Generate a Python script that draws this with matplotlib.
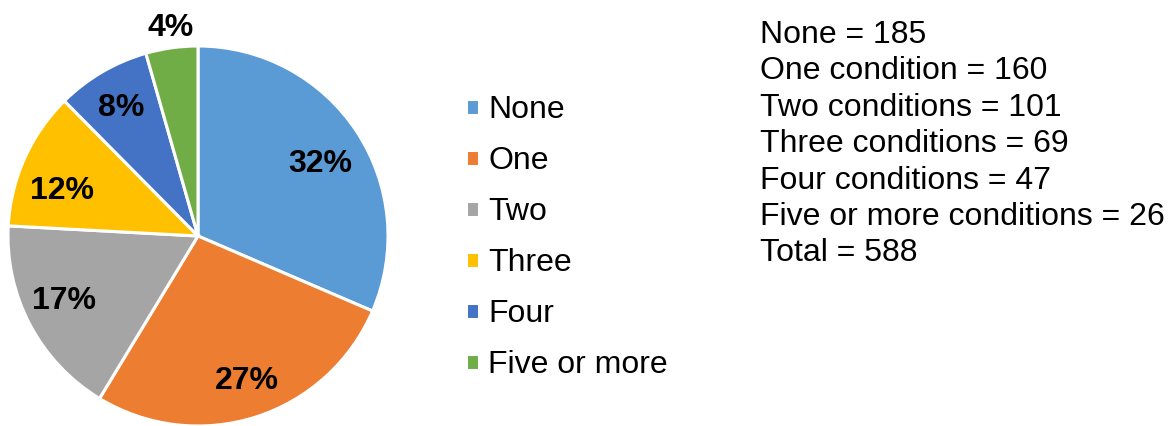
import matplotlib
matplotlib.use("Agg")
import matplotlib.pyplot as plt
import numpy as np

plt.rcParams["font.family"] = ["Liberation Sans", "DejaVu Sans"]

categories = ["None", "One", "Two", "Three", "Four", "Five or more"]
counts = [185, 160, 101, 69, 47, 26]
pct_labels = ["32%", "27%", "17%", "12%", "8%", "4%"]
colors = ["#5B9BD5", "#ED7D31", "#A5A5A5", "#FFC000", "#4472C4", "#70AD47"]
summary_lines = [
    "None = 185",
    "One condition = 160",
    "Two conditions = 101",
    "Three conditions = 69",
    "Four conditions = 47",
    "Five or more conditions = 26",
    "Total = 588",
]

W, H = 1173, 426
fig = plt.figure(figsize=(W / 100, H / 100), dpi=100)
ax = fig.add_axes([8 / W, 0 / H, 380 / W, 380 / H])

wedges, _ = ax.pie(counts, colors=colors, startangle=90, counterclock=False,
                   wedgeprops=dict(edgecolor="white", linewidth=2.2))
ax.set_xlim(-1, 1)
ax.set_ylim(-1, 1)
ax.set_aspect("equal")

# label placement (radius, angle nudge in degrees), last one outside the pie
label_r = [0.755, 0.79, 0.775, 0.76, 0.80, 1.12]
label_dang = [-1.7, 1.3, -3.3, 4.5, 0.0, -0.7]
for w, lab, r, da in zip(wedges, pct_labels, label_r, label_dang):
    ang = np.deg2rad((w.theta1 + w.theta2) / 2 + da)
    ax.text(r * np.cos(ang), r * np.sin(ang), lab, ha="center", va="center_baseline",
            fontsize=23, fontweight="bold", color="black", clip_on=False)

fig.legend(wedges, categories, loc="upper left",
           bbox_to_anchor=(466 / W, 1 - 95 / H), frameon=False,
           fontsize=23, handlelength=0.4, handleheight=0.4,
           handletextpad=0.3, labelspacing=0.66, borderpad=0, borderaxespad=0)

for i, line in enumerate(summary_lines):
    fig.text(760 / W, 1 - (35 + i * 36.4) / H, line, ha="left", va="center",
             fontsize=23, color="black")

fig.savefig("out.png", dpi=100)
